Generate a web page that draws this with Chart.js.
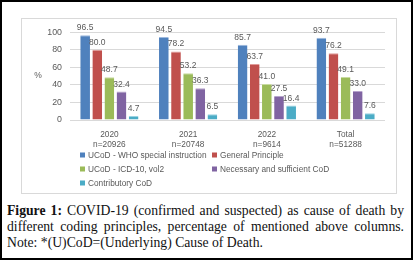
<!DOCTYPE html>
<html>
<head>
<meta charset="utf-8">
<script src="https://cdn.jsdelivr.net/npm/chart.js@4"></script>
<style>
  html, body { margin: 0; padding: 0; background: #fff; }
  .frame {
    position: relative; width: 413px; height: 260px; box-sizing: border-box;
    border: 2px solid #000; overflow: hidden;
  }
  .chartBox {
    position: absolute; left: 19px; top: 16px; width: 376px; height: 176px;
    box-sizing: border-box; border: 1px solid #d9d9d9;
  }
  .chartBox .inner { position: relative; width: 374px; height: 174px; }
  .caption {
    position: absolute; left: 5px; top: 201px; width: 397px;
    font-family: 'Liberation Serif', 'DejaVu Serif', serif; font-size: 13.7px;
    line-height: 16px; color: #111;
  }
  .caption div { text-align: justify; text-align-last: justify; white-space: nowrap; }
  .caption div.last { text-align: left; text-align-last: left; }
</style>
</head>
<body>
<div class="frame">
  <div class="chartBox"><div class="inner"><canvas id="covidChart"></canvas></div></div>
  <div class="caption">
    <div><b>Figure 1:</b> COVID-19 (confirmed and suspected) as cause of death by</div>
    <div>different coding principles, percentage of mentioned above columns.</div>
    <div class="last">Note: *(U)CoD=(Underlying) Cause of Death.</div>
  </div>
</div>
<script>
// categories (two-line tick labels)
const categories = [
  ['2020', 'n=20926'],
  ['2021', 'n=20748'],
  ['2022', 'n=9614'],
  ['Total', 'n=51288'],
];

const seriesNames = [
  'UCoD - WHO special instruction',
  'General Principle',
  'UCoD - ICD-10, vol2',
  'Necessary and sufficient CoD',
  'Contributory CoD',
];

const whoSpecial = [96.5, 94.5, 85.7, 93.7];
const generalPrinciple = [80.0, 78.2, 63.7, 76.2];
const icd10Vol2 = [48.7, 53.2, 41.0, 49.1];
const necessarySufficient = [32.4, 36.3, 27.5, 33.0];
const contributory = [4.7, 6.5, 16.4, 7.6];

const yMin = 0;
const yMax = 100;
const yStep = 10;

const colors = ['#4F81BD', '#C0504D', '#9BBB59', '#8064A2', '#4BACC6'];
const topEdge = ['#9DB9DE', '#E09A98', '#C8DBA0', '#B6A3CC', '#9AD3E2'];

const seriesValues = [whoSpecial, generalPrinciple, icd10Vol2, necessarySufficient, contributory];

const datasets = seriesValues.map((vals, i) => ({
  label: seriesNames[i],
  data: vals,
  backgroundColor: colors[i],
  borderColor: topEdge[i],
  borderWidth: { top: 1, left: 0, right: 0, bottom: 0 },
  borderSkipped: 'bottom',
  categoryPercentage: 0.77,
  barPercentage: 0.8,
}));

const textGrey = '#595959';
const sans = "'Liberation Sans', Arial, sans-serif";

const extras = {
  id: 'extras',
  afterDatasetsDraw(chart) {
    const { ctx } = chart;
    ctx.save();
    // value labels above bars
    ctx.font = '8.5px ' + sans;
    ctx.fillStyle = textGrey;
    ctx.textAlign = 'center';
    ctx.textBaseline = 'bottom';
    chart.data.datasets.forEach((ds, i) => {
      chart.getDatasetMeta(i).data.forEach((bar, j) => {
        ctx.fillText(ds.data[j].toFixed(1), bar.x, bar.y - 3);
      });
    });
    ctx.restore();
  },
  afterDraw(chart) {
    const { ctx, chartArea } = chart;
    ctx.save();
    // "%" axis title, not rotated
    ctx.font = '8.5px ' + sans;
    ctx.fillStyle = textGrey;
    ctx.textAlign = 'center';
    ctx.textBaseline = 'middle';
    ctx.fillText('%', 16, (chartArea.top + chartArea.bottom) / 2);

    // legend, two columns
    const slots = [[58, 136], [190, 136], [58, 150], [190, 150], [58, 164]];
    ctx.font = '8.3px ' + sans;
    ctx.textAlign = 'left';
    chart.data.datasets.forEach((ds, i) => {
      const [x, y] = slots[i];
      ctx.fillStyle = ds.backgroundColor;
      ctx.fillRect(x, y - 2.5, 5, 5);
      ctx.fillStyle = textGrey;
      ctx.fillText(ds.label, x + 8, y + 0.5);
    });
    ctx.restore();
  },
};

new Chart(document.getElementById('covidChart'), {
  type: 'bar',
  data: { labels: categories, datasets },
  options: {
    responsive: true,
    maintainAspectRatio: false,
    animation: false,
    layout: { padding: { top: 8, right: 11, bottom: 44, left: 0 } },
    plugins: {
      legend: { display: false },
      tooltip: { enabled: false },
    },
    scales: {
      x: {
        grid: { display: false },
        border: { display: false },
        ticks: {
          color: textGrey,
          font: { family: sans, size: 8.3, lineHeight: 1.2 },
          padding: 2,
          maxRotation: 0,
        },
        afterFit(scale) { scale.height = 29; },
      },
      y: {
        min: yMin,
        max: yMax,
        grid: { color: '#d9d9d9', drawTicks: false },
        border: { display: false },
        ticks: {
          stepSize: yStep,
          color: textGrey,
          font: { family: sans, size: 8.8 },
          padding: 8,
        },
        afterFit(scale) { scale.width = 48; },
      },
    },
  },
  plugins: [extras],
});
</script>
</body>
</html>
